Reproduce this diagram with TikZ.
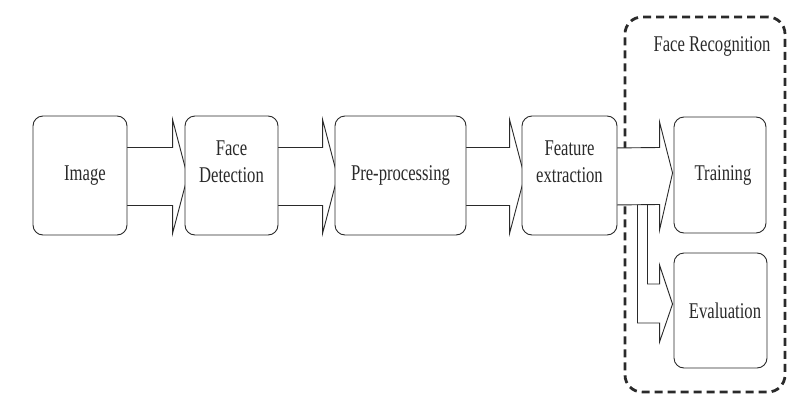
\documentclass[tikz,border=0pt]{standalone}
\usepackage{fontspec}
\setmainfont{Liberation Serif}[FakeStretch=0.74]
\usetikzlibrary{calc}
\pgfdeclarelayer{back}
\pgfdeclarelayer{mid}
\pgfsetlayers{back,mid,main}
\definecolor{ink}{HTML}{2A2A2A}
\tikzset{
  stage/.style={draw=ink, line width=0.9pt, fill=white, rounded corners=10pt,
    align=center, text=ink, inner sep=0pt,
    font=\fontsize{22.5}{27}\selectfont},
  flow/.style={draw=ink, line width=0.9pt, fill=white, line join=miter},
  group/.style={draw=ink, line width=2.8pt, dash pattern=on 8pt off 5pt,
    rounded corners=17pt, inner sep=0pt},
  caption/.style={text=ink, font=\fontsize{22.5}{27}\selectfont, inner sep=0pt}
}
% block arrow from the right side of #1 into the left side of #2
\newcommand\flowarrow[2]{%
  \draw[flow] ($(#1.east)+(-5,-28)$) -- ($(#2.west)+(-12,-28)$)
    -- ($(#2.west)+(-12,-56)$) -- ($(#2.west)+(3,1)$)
    -- ($(#2.west)+(-12,58)$) -- ($(#2.west)+(-12,30)$)
    -- ($(#1.east)+(-5,30)$) -- cycle;}
\begin{document}
\begin{tikzpicture}[x=1pt,y=-1pt]
\useasboundingbox (0,0) rectangle (787,399);

% processing stages
\node[stage, minimum width=94pt, minimum height=119pt] (img) at (80,175.5) {\hspace*{10pt}Image};
\node[stage, minimum width=93pt, minimum height=119pt] (fd) at (231.5,175.5) {Face\\Detection\\\mbox{}};
\node[stage, minimum width=131pt, minimum height=119pt] (pp) at (400.5,175.5) {Pre-processing};
\node[stage, minimum width=95pt, minimum height=119pt] (fe) at (569.5,175.5) {Feature\\extraction\\\mbox{}};
\node[stage, minimum width=92pt, minimum height=116pt] (tr) at (720,175) {\hspace*{6pt}Training};
\node[stage, minimum width=93pt, minimum height=115pt] (ev) at (720.5,310.5) {\hspace*{9pt}Evaluation};

% recognition group
\begin{pgfonlayer}{back}
  \node[group, minimum width=160pt, minimum height=375pt] (rec) at (705,204.5) {};
\end{pgfonlayer}
\node[caption, anchor=base] (rectitle) at (712,51) {Face Recognition};

% connectors
\begin{pgfonlayer}{mid}
  \draw[flow] ($(fe.east)+(20,29)$) |- ($(ev.west)+(-14,12.5)$)
    -- ($(ev.west)+(-14,31.5)$) -- ($(ev.west)+(-1,-6.5)$)
    -- ($(ev.west)+(-14,-45.5)$) -- ($(ev.west)+(-14,-26.5)$)
    -| ($(fe.east)+(30,29)$) -- cycle;
  \flowarrow{img}{fd}
  \flowarrow{fd}{pp}
  \flowarrow{pp}{fe}
  \draw[flow] ($(fe.east)+(-5,-27.5)$) -- ($(tr.west)+(-14,-27.5)$)
    -- ($(tr.west)+(-14,-53)$) -- ($(tr.west)+(-1,-2)$)
    -- ($(tr.west)+(-14,55)$) -- ($(tr.west)+(-14,29.5)$)
    -- ($(fe.east)+(-5,29.5)$) -- cycle;
\end{pgfonlayer}
\end{tikzpicture}
\end{document}
